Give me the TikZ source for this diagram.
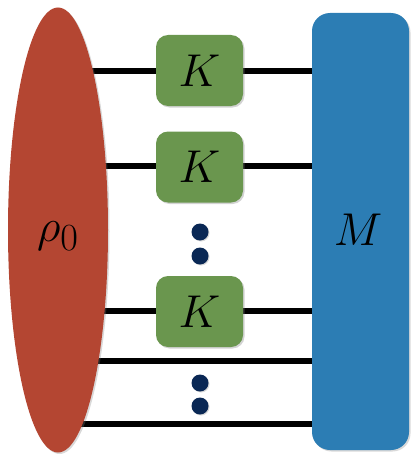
\documentclass[tikz,border=0pt]{standalone}
\usetikzlibrary{shadows,shapes.geometric}
\definecolor{rhored}{RGB}{180,70,50}
\definecolor{kgreen}{RGB}{106,150,78}
\definecolor{mblue}{RGB}{44,125,180}
\definecolor{dotblue}{RGB}{10,40,85}
\newcommand{\biglbl}[1]{\scalebox{1.85}{\Huge$#1$}}
\begin{document}
\begin{tikzpicture}[x=1pt,y=-1pt,
  wire/.style={line width=6pt,black},
  kbox/.style={fill=kgreen,rounded corners=12pt,minimum width=87pt,minimum height=71pt,inner sep=0pt,drop shadow={opacity=0.35,shadow xshift=1.5pt,shadow yshift=-1.5pt}},
  vdot/.style={circle,fill=dotblue,minimum size=17pt,inner sep=0pt,drop shadow={opacity=0.3,shadow xshift=1pt,shadow yshift=-1pt}}]
\useasboundingbox (0,0) rectangle (410,460);
% wires
\coordinate (a1) at (58,71);  \coordinate (b1) at (360,71);
\coordinate (a2) at (58,166); \coordinate (b2) at (360,166);
\coordinate (a3) at (58,311); \coordinate (b3) at (360,311);
\coordinate (a4) at (58,361); \coordinate (b4) at (360,361);
\coordinate (a5) at (58,424); \coordinate (b5) at (360,424);
\foreach \i in {1,...,5} \draw[wire] (a\i) -- (b\i);
% rho
\node[ellipse,fill=rhored,minimum width=100pt,minimum height=445pt,inner sep=0pt,drop shadow={opacity=0.3,shadow xshift=1.5pt,shadow yshift=-1.5pt}] (rho) at (58,230) {};
\node (rholbl) at (58,236) {\biglbl{\rho_0}};
% M
\node[fill=mblue,rounded corners=18pt,minimum width=97pt,minimum height=437pt,inner sep=0pt,drop shadow={opacity=0.3,shadow xshift=1.5pt,shadow yshift=-1.5pt}] (M) at (360.5,231.5) {};
\node (Mlbl) at (358,230) {\biglbl{M}};
% K boxes
\node[kbox] (k1) at (199.5,70.5) {\biglbl{K}};
\node[kbox] (k2) at (199.5,167) {\biglbl{K}};
\node[kbox] (k3) at (199.5,311.5) {\biglbl{K}};
% dots
\node[vdot] (d1) at (200,232) {};
\node[vdot] (d2) at (200,256) {};
\node[vdot] (d3) at (200,383) {};
\node[vdot] (d4) at (200,406) {};
\end{tikzpicture}
\end{document}
